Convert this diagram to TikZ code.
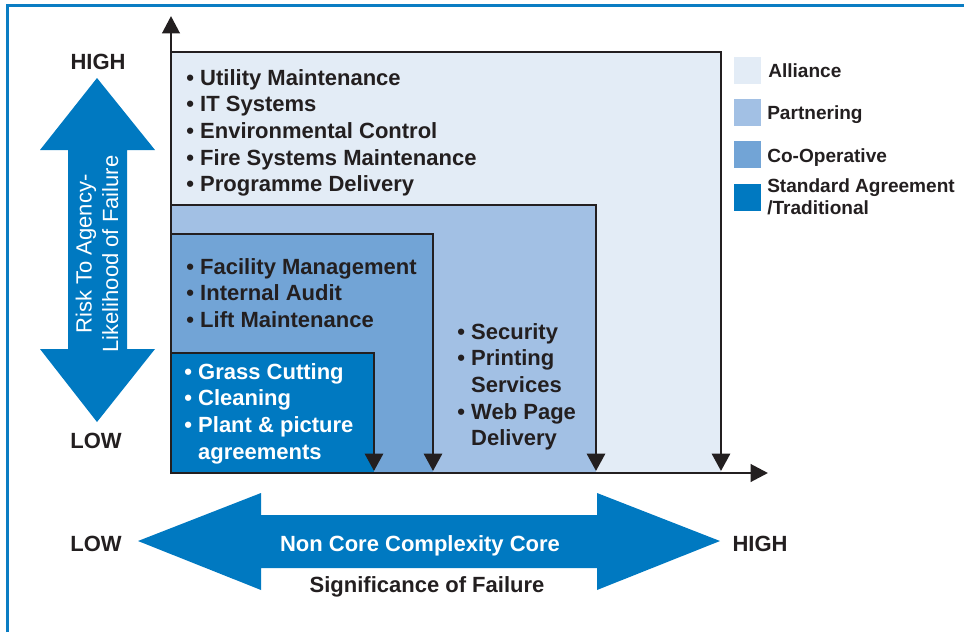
\documentclass[tikz,border=0pt]{standalone}
\usepackage{fontspec}
\setmainfont{Liberation Sans}
\usetikzlibrary{arrows.meta}
\definecolor{frameblue}{HTML}{0A7DC3}
\definecolor{bigblue}{HTML}{0079C1}
\definecolor{allfill}{HTML}{E3ECF6}
\definecolor{partfill}{HTML}{A2C0E4}
\definecolor{coopfill}{HTML}{72A4D6}
\definecolor{stdfill}{HTML}{0079C1}
\definecolor{ink}{HTML}{231F20}
\newcommand{\blist}[1]{\begin{tabular}[t]{@{}l@{\hspace{4.7pt}}l@{}}#1\end{tabular}}
\begin{document}
\begin{tikzpicture}[x=0.75pt,y=-0.75pt,
  mainfont/.style={font=\fontsize{16.5}{20}\selectfont\bfseries},
  legfont/.style={font=\fontsize{14.3}{17}\selectfont\bfseries},
  lbl/.style={inner sep=0pt,anchor=base west,text=ink,mainfont},
  legtxt/.style={inner sep=0pt,anchor=base west,text=ink,legfont},
  edge/.style={draw=ink,line width=2.2pt,line cap=rect},
  downarr/.style={draw=ink,line width=2.2pt,-{Triangle[length=13pt,width=13.5pt]}},
  axisarr/.style={draw=ink,line width=2.2pt,-{Triangle[length=13pt,width=13pt]}},
  legsq/.style={inner sep=0pt,minimum size=20.25pt,draw=none}]
\useasboundingbox (0,0) rectangle (964,632);
% frame
\draw[frameblue,line width=2.25pt] (7.5,632) -- (7.5,5.5) -- (964,5.5);
% region fills
\fill[allfill] (171,52) rectangle (721,473);
\fill[partfill] (171,205) rectangle (596,473);
\fill[coopfill] (171,234) rectangle (433,473);
\fill[stdfill] (171,353) rectangle (374,473);
% corners and feet
\coordinate (a1) at (171,52); \coordinate (a2) at (721,52); \coordinate (a3) at (721,471);
\coordinate (p1) at (171,205); \coordinate (p2) at (596,205); \coordinate (p3) at (596,471);
\coordinate (c1) at (171,234); \coordinate (c2) at (433,234); \coordinate (c3) at (433,471);
\coordinate (s1) at (171,353); \coordinate (s2) at (374,353); \coordinate (s3) at (374,471);
\draw[edge] (a1) -- (a2); \draw[downarr] (a2) -- (a3);
\draw[edge] (p1) -- (p2); \draw[downarr] (p2) -- (p3);
\draw[edge] (c1) -- (c2); \draw[downarr] (c2) -- (c3);
\draw[edge] (s1) -- (s2); \draw[downarr] (s2) -- (s3);
% axes
\coordinate (o) at (171,474);
\coordinate (ytop) at (171,16);
\coordinate (xend) at (768,473);
\coordinate (o2) at (170,473);
\draw[axisarr] (o) -- (ytop);
\draw[axisarr] (o2) -- (xend);
% lists
\node[lbl] (alist) at (186,85) {\blist{•&Utility Maintenance\\•&IT Systems\\•&Environmental Control\\•&Fire Systems Maintenance\\•&Programme Delivery}};
\node[lbl] (clist) at (186,274) {\blist{•&Facility Management\\•&Internal Audit\\•&Lift Maintenance}};
\node[lbl,text=white] (slist) at (184,379) {\blist{•&Grass Cutting\\•&Cleaning\\•&Plant \& picture\\&agreements}};
\node[lbl] (plist) at (457,339) {\blist{•&Security\\•&Printing\\&Services\\•&Web Page\\&Delivery}};
% legend
\node[legsq,fill=allfill,anchor=north west] (lg1) at (734,57) {};
\node[legsq,fill=partfill,anchor=north west] (lg2) at (734,99) {};
\node[legsq,fill=coopfill,anchor=north west] (lg3) at (734,141) {};
\node[legsq,fill=stdfill,anchor=north west] (lg4) at (734,184) {};
\node[legtxt] (lt1) at (768,77) {Alliance};
\node[legtxt] (lt2) at (767,119) {Partnering};
\node[legtxt] (lt3) at (767,162) {Co-Operative};
\node[legtxt] (lt4) at (767,192) {\begin{tabular}[t]{@{}l@{}}Standard Agreement\\/Traditional\end{tabular}};
% vertical big arrow
\fill[bigblue] (97,78) -- (155,150) -- (127,150) -- (127,349) -- (155,349) -- (97,422)
  -- (40,349) -- (68,349) -- (68,150) -- (40,150) -- cycle;
\node[rotate=90,align=center,text=white,inner sep=0pt,font=\fontsize{16.5}{20}\selectfont] (vlab) at (97,254) {Risk To Agency-\\Likelihood of Failure};
\node[lbl,anchor=base] (yhigh) at (98,69) {HIGH};
\node[lbl,anchor=base] (ylow) at (96,448) {LOW};
% horizontal big arrow
\fill[bigblue] (138,541) -- (261,493) -- (261,515) -- (597,515) -- (597,493) -- (720,541)
  -- (597,590) -- (597,568) -- (261,568) -- (261,590) -- cycle;
\node[lbl,anchor=base,text=white] (hlab) at (420,551) {Non Core Complexity Core};
\node[lbl,anchor=base] (sig) at (427,592) {Significance of Failure};
\node[lbl,anchor=base] (xlow) at (96,551) {LOW};
\node[lbl,anchor=base] (xhigh) at (760,551) {HIGH};
\end{tikzpicture}
\end{document}
